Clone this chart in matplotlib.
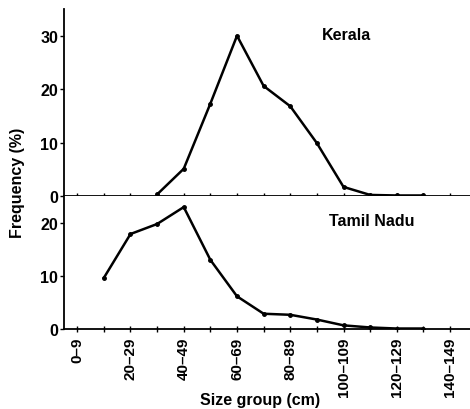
import numpy as np
import matplotlib
matplotlib.use("Agg")
import matplotlib.pyplot as plt

plt.rcParams['font.family'] = ['Liberation Sans', 'DejaVu Sans']
plt.rcParams['font.weight'] = 'bold'

# size groups (cm), 10 cm classes
groups = ['0–9', '10–19', '20–29', '30–39', '40–49', '50–59', '60–69', '70–79',
          '80–89', '90–99', '100–109', '110–119', '120–129', '130–139', '140–149']

# frequency (%)
kerala_idx = [3, 4, 5, 6, 7, 8, 9, 10, 11, 12, 13]
kerala_freq = [0.3, 5.1, 17.3, 30.0, 20.6, 16.8, 9.9, 1.7, 0.2, 0.1, 0.1]

tn_idx = [1, 2, 3, 4, 5, 6, 7, 8, 9, 10, 11, 12, 13]
tn_freq = [9.7, 18.0, 19.9, 23.1, 13.1, 6.2, 2.9, 2.7, 1.8, 0.7, 0.3, 0.1, 0.1]

fig = plt.figure(figsize=(4.7, 4.1), dpi=100)
ax1 = fig.add_axes([0.136, 0.5195, 0.864, 0.456])
ax2 = fig.add_axes([0.136, 0.195, 0.864, 0.3245])

x = np.arange(len(groups))

for ax in (ax1, ax2):
    for s in ('top', 'right'):
        ax.spines[s].set_visible(False)
    ax.spines['left'].set_linewidth(1.3)
    ax.spines['bottom'].set_linewidth(1.3)
    ax.set_xlim(-0.5, 14.75)
    ax.set_xticks(x)
    ax.tick_params(axis='x', direction='inout', length=4, width=1)
    ax.tick_params(axis='y', direction='out', length=3, width=1, labelsize=11.5, pad=1)

ax1.plot(kerala_idx, kerala_freq, color='black', lw=1.8, marker='o', ms=2.5)
ax1.set_ylim(0, 35)
ax1.set_yticks([0, 10, 20, 30])
ax1.set_xticklabels([])
ax1.text(10.1, 30.2, 'Kerala', fontsize=11.5, fontweight='bold', ha='center', va='center')

ax2.plot(tn_idx, tn_freq, color='black', lw=1.8, marker='o', ms=2.5)
ax2.set_ylim(0, 25.2)
ax2.set_yticks([0, 10, 20])
ax2.set_xticklabels([g if i % 2 == 0 else '' for i, g in enumerate(groups)],
                    rotation=90, fontsize=11, fontweight='bold')
ax2.text(11.05, 20.6, 'Tamil Nadu', fontsize=11.5, fontweight='bold', ha='center', va='center')

fig.text(0.553, 0.024, 'Size group (cm)', fontsize=11.5, fontweight='bold',
         ha='center', va='center')
fig.text(0.038, 0.555, 'Frequency (%)', rotation=90, fontsize=11.5, fontweight='bold',
         ha='center', va='center')

fig.savefig('out.png', dpi=100)
